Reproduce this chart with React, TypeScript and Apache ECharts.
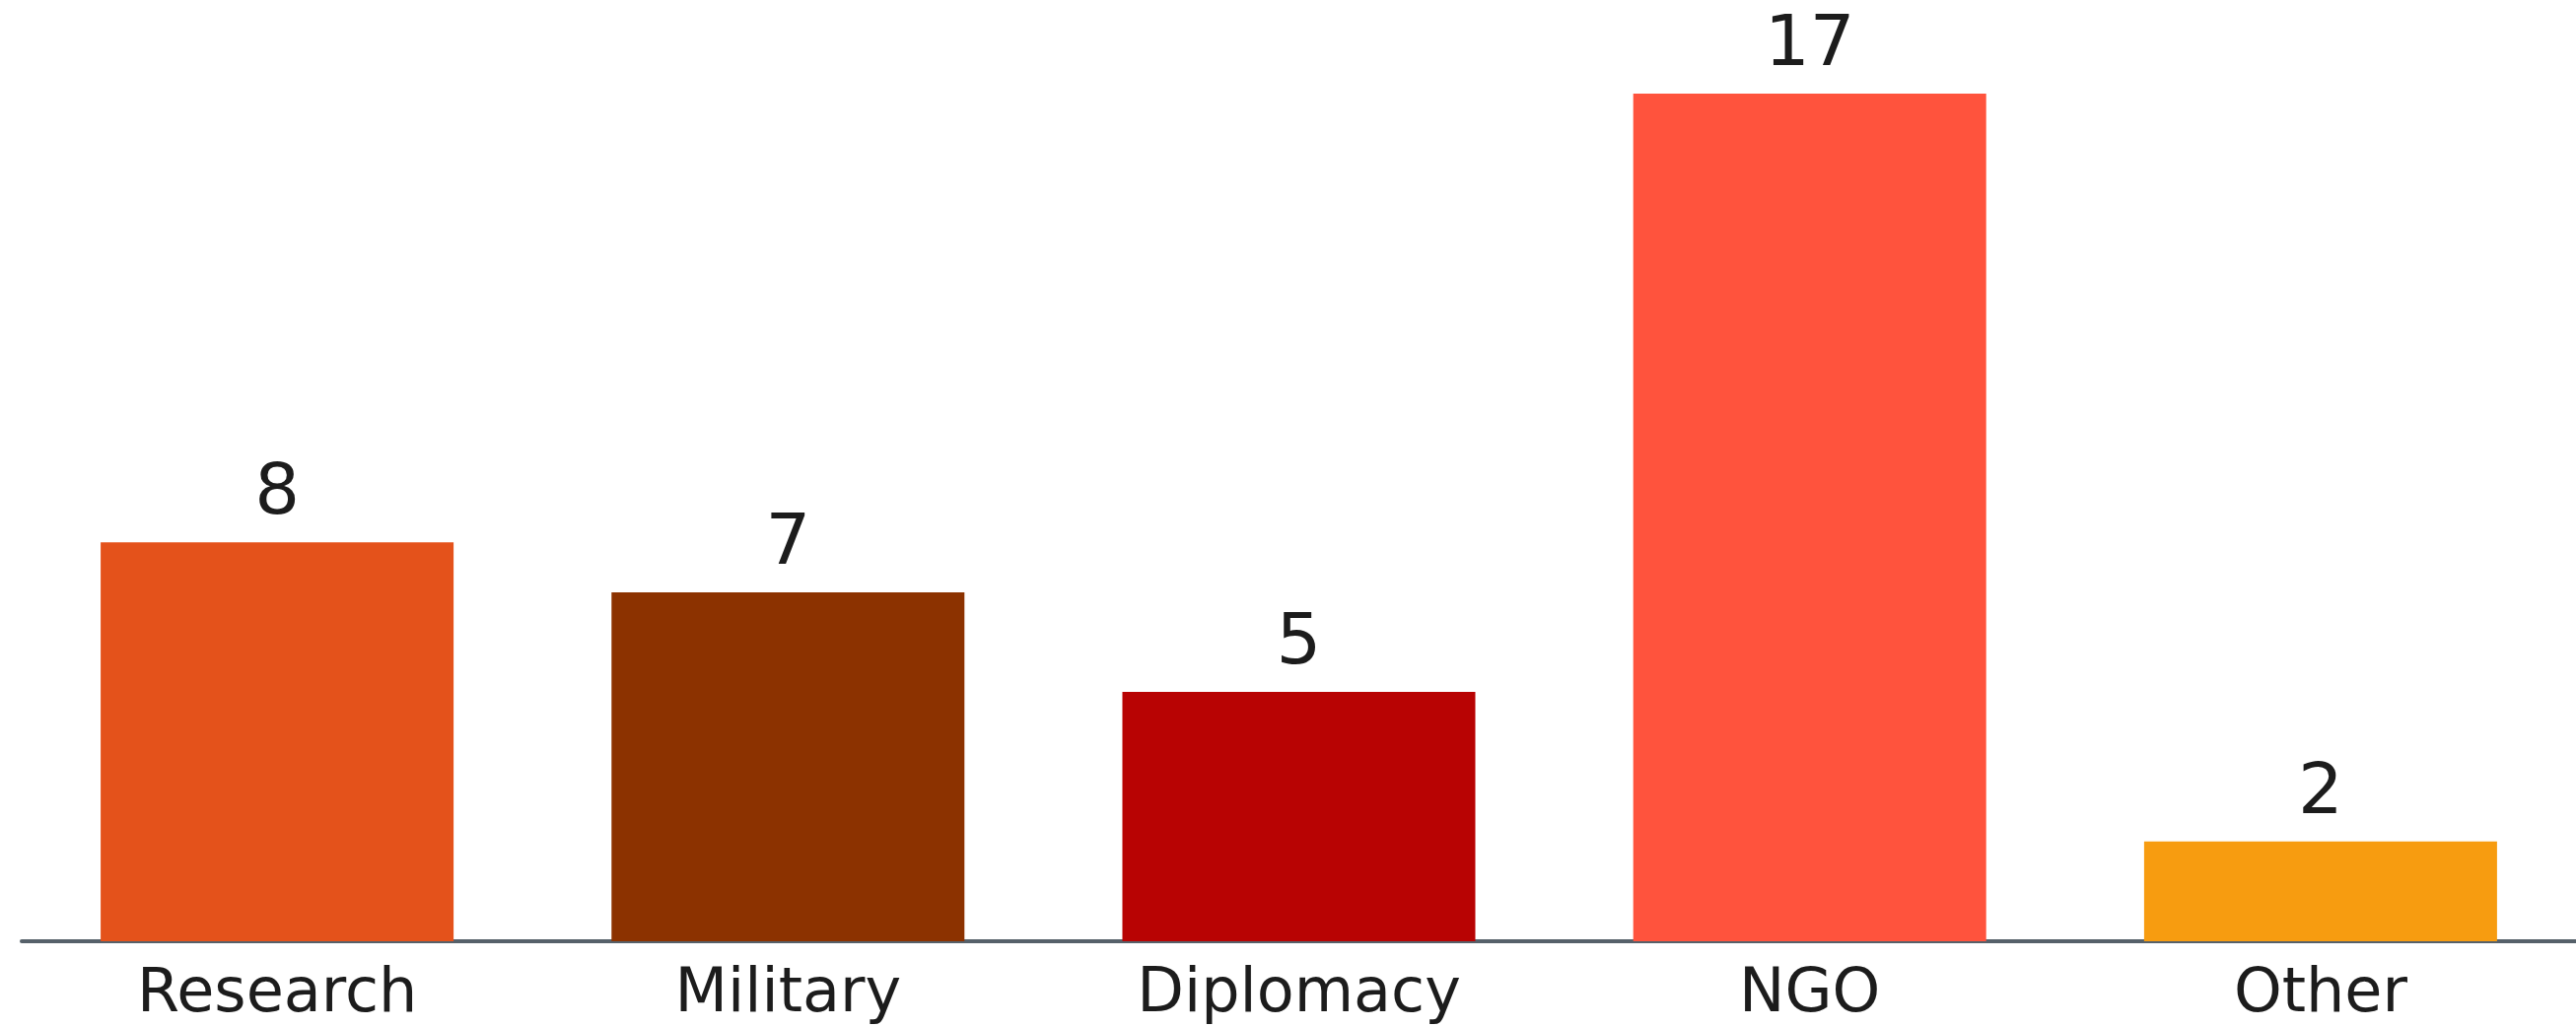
import React, { useEffect, useRef } from "react";
import * as echarts from "echarts";

const categories = ["Research", "Military", "Diplomacy", "NGO", "Other"];
const values = [8, 7, 5, 17, 2];
const barColors = ["#E4521B", "#8C3200", "#B80303", "#FF533D", "#F79C10"];

export default function App() {
  const ref = useRef<HTMLDivElement>(null);
  useEffect(() => {
    if (!ref.current) return;
    const chart = echarts.init(ref.current, null, { renderer: "svg" });
    chart.setOption({
      animation: false,
      backgroundColor: "#ffffff",
      grid: { left: 22, right: 0, top: 95, bottom: 87, containLabel: false },
      xAxis: {
        type: "category",
        data: categories,
        axisLine: { show: true, lineStyle: { color: "#56616A", width: 4 } },
        axisTick: { show: false },
        axisLabel: {
          color: "#1c1c1c",
          fontFamily: "DejaVu Sans",
          fontSize: 62,
          margin: 18,
        },
      },
      yAxis: {
        type: "value",
        min: 0,
        max: 17,
        show: false,
        splitLine: { show: false },
      },
      series: [
        {
          type: "bar",
          barWidth: 358,
          data: values.map((v, i) => ({ value: v, itemStyle: { color: barColors[i] } })),
          label: {
            show: true,
            position: "top",
            distance: 18,
            color: "#1c1c1c",
            fontFamily: "DejaVu Sans",
            fontSize: 72,
          },
        },
      ],
    });
    return () => chart.dispose();
  }, []);
  return (
    <div
      ref={ref}
      style={{ position: "fixed", left: 0, top: 0, width: 2613, height: 1042 }}
    />
  );
}
